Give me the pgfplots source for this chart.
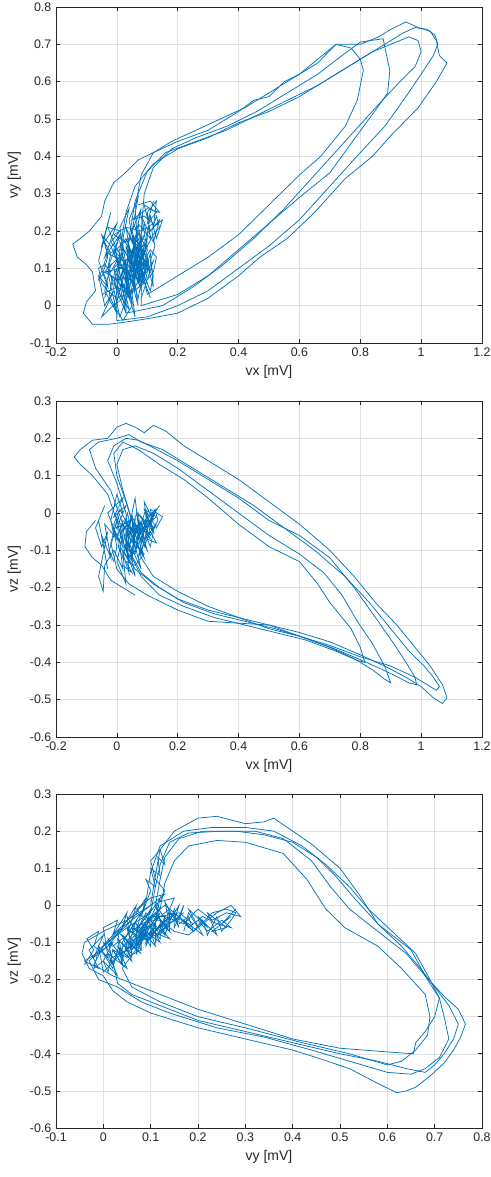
\documentclass[border=0pt]{standalone}
\usepackage{fontspec}
\setmainfont{Liberation Sans}
\usepackage{pgfplots}
\pgfplotsset{compat=1.18}
\definecolor{mblue}{rgb}{0,0.447,0.741}
\definecolor{axgray}{rgb}{0.15,0.15,0.15}
\pgfplotscreateplotcyclelist{vcglist}{mblue,solid,line width=0.55pt,mark=none\\}
\pgfplotsset{vcg/.style={
  scale only axis, width=319.5pt, anchor=south west,
  grid=major, grid style={line width=0.4pt, draw=black!12},
  axis line style={draw=axgray, line width=0.5pt},
  tick style={draw=axgray, line width=0.5pt},
  tick align=inside, major tick length=3pt,
  ticklabel style={font=\fontsize{9.3}{10}\selectfont, text=axgray},
  label style={font=\fontsize{10.5}{12}\selectfont, text=axgray},
  /pgf/number format/.cd, fixed, precision=1, assume math mode=true,
  /pgfplots/.cd,
  cycle list name=vcglist,
}}
\begin{document}
\begin{tikzpicture}
\path[use as bounding box] (-42pt,0pt) rectangle (325.5pt,-882.75pt);
% ---------------- vx - vy
\begin{axis}[vcg, at={(0pt,-257.25pt)}, height=252pt,
  xmin=-0.2, xmax=1.2, ymin=-0.1, ymax=0.8,
  xtick={-0.2,0,0.2,0.4,0.6,0.8,1,1.2},
  ytick={-0.1,0,0.1,0.2,0.3,0.4,0.5,0.6,0.7,0.8},
  xlabel={vx [mV]}, ylabel={vy [mV]}]
\addplot coordinates {(0.02,-0.045) (0.10,-0.035) (0.20,-0.02) (0.30,0.02) (0.40,0.08) (0.47,0.13) (0.56,0.18) (0.65,0.25) (0.75,0.34) (0.84,0.40) (0.90,0.455) (0.99,0.53) (1.05,0.60) (1.085,0.65) (1.06,0.67) (1.05,0.71) (1.03,0.735) (0.99,0.745) (0.95,0.76) (0.90,0.74) (0.86,0.72) (0.80,0.70) (0.72,0.70) (0.66,0.65) (0.60,0.62) (0.55,0.60) (0.50,0.56) (0.45,0.55) (0.40,0.52) (0.30,0.47) (0.20,0.44) (0.12,0.41) (0.07,0.39) (0.02,0.35) (-0.01,0.33) (-0.04,0.28) (-0.05,0.24) (-0.09,0.20) (-0.12,0.18) (-0.145,0.165) (-0.13,0.13) (-0.10,0.11) (-0.08,0.09) (-0.07,0.04) (-0.10,0.01) (-0.11,-0.02) (-0.08,-0.05) (-0.03,-0.05) (0.02,-0.045)};
\addplot coordinates {(0.0,-0.04) (0.1,-0.03) (0.2,0.0) (0.3,0.04) (0.4,0.10) (0.5,0.16) (0.6,0.23) (0.7,0.32) (0.8,0.41) (0.88,0.48) (0.95,0.56) (1.0,0.62) (1.04,0.67) (1.055,0.70) (1.045,0.725) (1.02,0.74) (0.98,0.745) (0.94,0.73) (0.88,0.70) (0.80,0.66) (0.70,0.61) (0.60,0.56) (0.50,0.52) (0.40,0.49) (0.30,0.45) (0.20,0.42) (0.12,0.38) (0.06,0.32) (0.03,0.25) (0.01,0.15) (0.0,0.05) (0.0,-0.04)};
\addplot coordinates {(0.03,-0.02) (0.15,0.0) (0.25,0.05) (0.35,0.11) (0.45,0.18) (0.55,0.26) (0.65,0.35) (0.75,0.44) (0.85,0.53) (0.93,0.60) (0.98,0.64) (1.0,0.68) (0.99,0.71) (0.96,0.72) (0.90,0.70) (0.84,0.68) (0.76,0.64) (0.66,0.59) (0.56,0.55) (0.46,0.51) (0.36,0.47) (0.26,0.44) (0.16,0.41) (0.10,0.36) (0.06,0.28) (0.04,0.18) (0.03,0.08) (0.03,-0.02)};
\addplot coordinates {(0.08,0.0) (0.2,0.03) (0.3,0.08) (0.4,0.15) (0.5,0.22) (0.6,0.29) (0.70,0.356) (0.78,0.446) (0.853,0.527) (0.89,0.57) (0.897,0.63) (0.875,0.715) (0.80,0.706) (0.74,0.67) (0.66,0.62) (0.56,0.57) (0.46,0.52) (0.36,0.48) (0.26,0.45) (0.18,0.42) (0.12,0.37) (0.09,0.30) (0.08,0.20) (0.08,0.10) (0.08,0.0)};
\addplot coordinates {(0.1,0.03) (0.2,0.08) (0.3,0.13) (0.4,0.19) (0.5,0.27) (0.6,0.35) (0.67,0.40) (0.75,0.48) (0.79,0.55) (0.81,0.63) (0.80,0.66) (0.77,0.69) (0.72,0.70) (0.66,0.66) (0.6,0.62) (0.50,0.57) (0.42,0.53) (0.34,0.50) (0.26,0.47) (0.18,0.44) (0.12,0.41) (0.08,0.35) (0.06,0.26) (0.07,0.15) (0.1,0.03)};
\addplot coordinates {(0.12,0.28) (0.10,0.22) (0.13,0.25) (0.09,0.27) (0.11,0.20) (0.14,0.23) (0.12,0.17) (0.08,0.24) (0.10,0.15) (0.06,0.21) (0.09,0.12) (0.05,0.18) (0.07,0.08) (0.03,0.16) (0.06,0.05) (0.02,0.12) (0.04,0.02) (0.00,0.09) (0.03,-0.02) (-0.01,0.06) (0.02,0.14) (-0.03,0.10) (0.01,0.19) (-0.04,0.13) (0.00,0.22) (-0.05,0.16) (-0.02,0.25) (-0.06,0.12) (-0.03,0.05) (-0.06,0.08) (-0.04,0.0) (-0.01,0.04) (-0.05,-0.03) (0.00,0.01) (0.02,0.08) (0.05,0.03) (0.07,0.13) (0.04,0.07) (0.08,0.16) (0.05,0.10) (0.09,0.19) (0.06,0.14) (0.10,0.06) (0.07,0.11) (0.11,0.02) (0.08,0.09) (0.10,0.13) (0.06,0.18) (0.08,0.26) (0.05,0.20) (0.07,0.29) (0.04,0.23) (0.06,0.15) (0.03,0.21) (0.05,0.11) (0.01,0.17) (0.04,0.06) (0.00,0.13) (0.03,0.00) (-0.02,0.08) (0.01,-0.03) (0.04,0.04) (0.02,0.10) (0.06,0.07) (0.04,0.15) (0.08,0.11) (0.05,0.19) (0.09,0.14) (0.11,0.24) (0.13,0.18) (0.15,0.23) (0.12,0.21) (0.13,0.28) (0.10,0.25) (0.11,0.18) (0.07,0.22) (0.09,0.10) (0.06,0.16) (0.08,0.04) (0.05,0.12) (0.07,0.00) (0.04,0.09) (0.06,-0.03) (0.03,0.05) (0.05,0.14) (0.02,0.18) (0.04,0.26) (0.01,0.21) (0.03,0.11) (-0.01,0.15) (0.02,0.05) (-0.03,0.09) (0.00,-0.02) (-0.04,0.04) (-0.02,0.11) (-0.06,0.07) (-0.03,0.14) (-0.05,0.19) (-0.02,0.16) (0.01,0.10) (0.04,0.13) (0.07,0.06) (0.10,0.11) (0.12,0.05) (0.11,0.14) (0.09,0.08) (0.12,0.12) (0.08,0.02)};
\addplot coordinates {(0.00,0.05) (0.03,0.12) (0.01,0.07) (0.05,0.14) (0.02,0.09) (0.06,0.16) (0.04,0.08) (0.07,0.15) (0.05,0.06) (0.08,0.13) (0.06,0.09) (0.09,0.16) (0.07,0.07) (0.10,0.12) (0.08,0.05) (0.09,0.14) (0.06,0.11) (0.08,0.18) (0.05,0.13) (0.07,0.20) (0.04,0.12) (0.06,0.04) (0.03,0.10) (0.05,0.01) (0.02,0.06) (0.04,-0.01) (0.01,0.03) (-0.01,0.10) (0.02,0.13) (-0.02,0.17) (0.01,0.20) (-0.03,0.21) (0.00,0.15) (0.03,0.18) (0.06,0.12) (0.09,0.17) (0.11,0.09) (0.08,0.12) (0.10,0.16) (0.07,0.10) (0.09,0.06) (0.06,0.08) (0.04,0.14) (0.02,0.02) (-0.01,0.00) (0.02,-0.04) (0.05,0.00) (0.03,0.08)};
\addplot coordinates {(-0.04,0.02) (-0.03,0.06) (-0.045,0.09) (-0.03,0.13) (-0.04,0.17) (-0.02,0.14) (-0.03,0.10) (-0.015,0.07) (-0.025,0.03) (-0.01,0.0) (0.0,0.04) (-0.01,0.08) (0.005,0.11) (-0.005,0.15) (0.01,0.19) (0.02,0.16) (0.01,0.12) (0.025,0.09) (0.015,0.05) (0.03,0.01) (0.04,0.05) (0.03,0.09) (0.045,0.12) (0.035,0.16) (0.05,0.20) (0.06,0.17) (0.05,0.13) (0.065,0.10) (0.055,0.06) (0.07,0.02) (0.08,0.06) (0.07,0.10) (0.085,0.14) (0.075,0.18) (0.09,0.22) (0.10,0.18) (0.09,0.14) (0.105,0.11) (0.095,0.07) (0.11,0.04) (0.12,0.08) (0.11,0.12) (0.125,0.16) (0.115,0.20) (0.13,0.24) (0.14,0.21) (0.12,0.19) (0.10,0.16) (0.08,0.12) (0.06,0.09) (0.04,0.07) (0.02,0.10) (0.0,0.12) (-0.02,0.09) (-0.04,0.11) (-0.06,0.10) (-0.05,0.06) (-0.03,0.04) (0.0,0.02) (0.03,0.03) (0.06,0.05) (0.08,0.08) (0.10,0.10) (0.08,0.14) (0.05,0.11) (0.03,0.14) (0.01,0.16) (0.04,0.18) (0.07,0.16) (0.09,0.12) (0.11,0.15) (0.13,0.13) (0.12,0.09) (0.10,0.07)};
\addplot coordinates {(-0.05,0.03) (0.0,0.05) (0.04,0.03) (0.09,0.06) (0.05,0.08) (0.0,0.07) (-0.04,0.09) (0.01,0.10) (0.06,0.09) (0.10,0.12) (0.06,0.13) (0.02,0.12) (-0.03,0.14) (0.01,0.15) (0.06,0.14) (0.10,0.17) (0.07,0.19) (0.03,0.17) (-0.01,0.19) (0.03,0.21) (0.08,0.20) (0.12,0.22) (0.09,0.24) (0.05,0.23) (0.10,0.26) (0.14,0.25) (0.11,0.28) (0.07,0.27)};
\end{axis}
% ---------------- vx - vz
\begin{axis}[vcg, at={(0pt,-552.75pt)}, height=252pt,
  xmin=-0.2, xmax=1.2, ymin=-0.6, ymax=0.3,
  xtick={-0.2,0,0.2,0.4,0.6,0.8,1,1.2},
  ytick={-0.6,-0.5,-0.4,-0.3,-0.2,-0.1,0,0.1,0.2,0.3},
  xlabel={vx [mV]}, ylabel={vz [mV]}]
\addplot coordinates {(0.0,-0.02) (-0.03,0.05) (-0.08,0.10) (-0.12,0.13) (-0.14,0.15) (-0.12,0.17) (-0.08,0.195) (-0.03,0.20) (0.0,0.23) (0.03,0.24) (0.06,0.23) (0.09,0.215) (0.12,0.235) (0.16,0.22) (0.22,0.18) (0.30,0.14) (0.40,0.09) (0.50,0.03) (0.60,-0.03) (0.70,-0.10) (0.78,-0.17) (0.85,-0.24) (0.92,-0.30) (0.98,-0.36) (1.03,-0.41) (1.07,-0.46) (1.085,-0.495) (1.07,-0.51) (1.04,-0.495) (1.0,-0.465) (0.95,-0.44) (0.88,-0.41) (0.80,-0.38) (0.70,-0.345) (0.60,-0.32) (0.50,-0.30) (0.40,-0.295) (0.30,-0.29) (0.20,-0.26) (0.10,-0.22) (0.04,-0.19) (0.0,-0.15) (-0.02,-0.08) (0.0,-0.02)};
\addplot coordinates {(0.02,-0.03) (-0.02,0.06) (-0.07,0.12) (-0.09,0.17) (-0.06,0.19) (0.0,0.20) (0.04,0.21) (0.08,0.19) (0.15,0.17) (0.25,0.12) (0.35,0.07) (0.45,0.02) (0.55,-0.04) (0.65,-0.10) (0.75,-0.17) (0.83,-0.24) (0.90,-0.31) (0.96,-0.37) (1.01,-0.41) (1.04,-0.44) (1.06,-0.465) (1.05,-0.475) (1.02,-0.46) (0.98,-0.44) (0.90,-0.41) (0.80,-0.385) (0.70,-0.355) (0.60,-0.33) (0.50,-0.30) (0.40,-0.28) (0.30,-0.26) (0.20,-0.23) (0.12,-0.19) (0.06,-0.15) (0.02,-0.10) (0.02,-0.03)};
\addplot coordinates {(0.03,0.0) (0.0,0.08) (-0.03,0.14) (-0.01,0.18) (0.03,0.20) (0.07,0.195) (0.12,0.175) (0.20,0.14) (0.30,0.09) (0.40,0.04) (0.50,-0.02) (0.60,-0.06) (0.70,-0.12) (0.78,-0.20) (0.85,-0.28) (0.91,-0.35) (0.95,-0.40) (0.98,-0.44) (0.985,-0.46) (0.96,-0.455) (0.90,-0.43) (0.82,-0.40) (0.72,-0.365) (0.62,-0.335) (0.52,-0.31) (0.42,-0.29) (0.32,-0.27) (0.22,-0.24) (0.14,-0.20) (0.08,-0.16) (0.04,-0.10) (0.03,0.0)};
\addplot coordinates {(0.05,-0.02) (0.02,0.06) (0.0,0.13) (0.02,0.17) (0.06,0.18) (0.12,0.16) (0.20,0.12) (0.30,0.06) (0.40,0.0) (0.50,-0.06) (0.60,-0.11) (0.68,-0.16) (0.74,-0.22) (0.79,-0.29) (0.84,-0.35) (0.88,-0.41) (0.90,-0.455) (0.88,-0.445) (0.84,-0.42) (0.78,-0.39) (0.70,-0.36) (0.60,-0.33) (0.50,-0.31) (0.40,-0.28) (0.30,-0.25) (0.20,-0.21) (0.12,-0.17) (0.08,-0.12) (0.05,-0.02)};
\addplot coordinates {(0.06,-0.05) (0.03,0.03) (0.0,0.10) (-0.01,0.16) (0.02,0.19) (0.07,0.17) (0.14,0.13) (0.22,0.09) (0.30,0.04) (0.40,-0.03) (0.50,-0.09) (0.60,-0.13) (0.66,-0.19) (0.70,-0.24) (0.74,-0.28) (0.77,-0.31) (0.80,-0.36) (0.815,-0.40) (0.79,-0.395) (0.72,-0.37) (0.62,-0.34) (0.52,-0.32) (0.42,-0.30) (0.32,-0.28) (0.22,-0.25) (0.14,-0.22) (0.08,-0.17) (0.05,-0.12) (0.06,-0.05)};
\addplot coordinates {(-0.07,-0.02) (-0.10,-0.05) (-0.105,-0.09) (-0.08,-0.12) (-0.05,-0.14) (-0.02,-0.18) (0.02,-0.20) (0.06,-0.22)};
\addplot coordinates {(0.14,0.02) (0.10,-0.03) (0.13,-0.01) (0.09,0.01) (0.12,-0.05) (0.08,-0.01) (0.11,-0.07) (0.07,-0.02) (0.10,-0.10) (0.06,-0.04) (0.09,-0.12) (0.05,-0.06) (0.08,-0.15) (0.04,-0.08) (0.06,-0.17) (0.03,-0.10) (0.05,-0.13) (0.01,-0.06) (0.04,-0.02) (0.00,-0.04) (0.03,0.02) (-0.01,-0.01) (0.02,0.04) (-0.03,0.0) (0.01,-0.08) (-0.04,-0.03) (-0.02,-0.12) (-0.05,-0.06) (-0.03,-0.15) (-0.06,-0.02) (-0.04,0.02) (-0.07,-0.04) (-0.05,-0.09) (-0.03,-0.05) (-0.06,-0.17) (-0.045,-0.21) (-0.04,-0.14) (-0.01,-0.10) (0.02,-0.15) (0.01,-0.09) (0.04,-0.13) (0.03,-0.05) (0.06,-0.09) (0.05,-0.01) (0.08,-0.06) (0.07,0.0) (0.10,-0.04) (0.09,0.03) (0.12,-0.02) (0.11,0.01) (0.15,-0.01) (0.13,-0.04) (0.10,0.00) (0.08,-0.08) (0.06,-0.03) (0.05,-0.11) (0.03,-0.07) (0.04,-0.16) (0.02,-0.11) (0.03,-0.19) (0.00,-0.13) (0.02,-0.06) (-0.01,-0.03) (0.01,0.01) (0.04,-0.04) (0.06,0.04) (0.07,-0.03) (0.09,-0.09) (0.11,-0.05) (0.13,-0.08) (0.10,-0.07) (0.12,0.00) (0.09,-0.02) (0.07,-0.07) (0.05,-0.05) (0.02,-0.02) (0.00,-0.07) (-0.02,-0.02) (0.00,0.05) (0.02,0.00)};
\addplot coordinates {(0.02,-0.05) (0.05,-0.01) (0.03,-0.07) (0.06,-0.02) (0.04,-0.09) (0.07,-0.03) (0.05,-0.08) (0.08,-0.02) (0.06,-0.10) (0.09,-0.05) (0.07,-0.12) (0.10,-0.06) (0.08,-0.03) (0.11,-0.02) (0.09,-0.07) (0.12,-0.04) (0.10,-0.01) (0.13,0.01) (0.11,-0.03) (0.08,-0.05) (0.05,-0.04) (0.03,-0.10) (0.01,-0.05) (0.04,-0.03) (0.02,-0.08) (0.00,-0.02) (0.03,-0.04) (0.06,-0.07) (0.04,-0.12) (0.07,-0.09) (0.09,-0.11) (0.06,-0.14) (0.03,-0.13) (0.05,-0.16) (0.02,-0.14)};
\addplot coordinates {(-0.02,-0.02) (-0.01,-0.06) (-0.025,-0.10) (-0.01,-0.13) (0.0,-0.09) (-0.01,-0.05) (0.005,-0.01) (0.015,-0.05) (0.005,-0.09) (0.02,-0.12) (0.03,-0.08) (0.02,-0.04) (0.035,0.0) (0.045,-0.04) (0.035,-0.08) (0.05,-0.12) (0.06,-0.08) (0.05,-0.04) (0.065,0.0) (0.075,-0.04) (0.065,-0.08) (0.08,-0.11) (0.09,-0.07) (0.08,-0.03) (0.095,0.01) (0.105,-0.03) (0.095,-0.06) (0.11,-0.09) (0.12,-0.05) (0.11,-0.02) (0.125,0.01) (0.135,-0.02) (0.12,-0.04) (0.10,-0.02) (0.08,-0.05) (0.06,-0.03) (0.04,-0.06) (0.02,-0.03) (0.0,-0.06) (0.02,-0.09) (0.04,-0.10) (0.06,-0.11) (0.07,-0.06) (0.09,-0.04) (0.11,-0.06) (0.13,-0.03)};
\end{axis}
% ---------------- vy - vz
\begin{axis}[vcg, at={(0pt,-846pt)}, height=250.5pt,
  xmin=-0.1, xmax=0.8, ymin=-0.6, ymax=0.3,
  xtick={-0.1,0,0.1,0.2,0.3,0.4,0.5,0.6,0.7,0.8},
  ytick={-0.6,-0.5,-0.4,-0.3,-0.2,-0.1,0,0.1,0.2,0.3},
  xlabel={vy [mV]}, ylabel={vz [mV]}]
\addplot coordinates {(0.10,0.0) (0.11,0.08) (0.12,0.15) (0.15,0.20) (0.20,0.235) (0.24,0.24) (0.30,0.22) (0.34,0.225) (0.36,0.235) (0.40,0.20) (0.44,0.165) (0.50,0.10) (0.54,0.03) (0.58,-0.05) (0.65,-0.12) (0.68,-0.19) (0.72,-0.245) (0.75,-0.28) (0.765,-0.32) (0.755,-0.355) (0.74,-0.39) (0.72,-0.425) (0.69,-0.46) (0.66,-0.49) (0.64,-0.50) (0.62,-0.505) (0.58,-0.48) (0.52,-0.44) (0.45,-0.41) (0.40,-0.39) (0.30,-0.36) (0.20,-0.33) (0.10,-0.29) (0.05,-0.26) (0.02,-0.23) (0.0,-0.19) (-0.03,-0.17) (-0.045,-0.13) (-0.04,-0.10) (0.0,-0.07) (0.05,-0.04) (0.10,0.0)};
\addplot coordinates {(0.11,0.0) (0.12,0.07) (0.13,0.13) (0.16,0.18) (0.21,0.20) (0.28,0.20) (0.34,0.19) (0.40,0.17) (0.45,0.13) (0.49,0.08) (0.53,0.02) (0.58,-0.05) (0.63,-0.11) (0.67,-0.17) (0.70,-0.22) (0.73,-0.27) (0.75,-0.32) (0.74,-0.36) (0.72,-0.40) (0.70,-0.43) (0.68,-0.45) (0.64,-0.44) (0.58,-0.42) (0.50,-0.40) (0.40,-0.37) (0.30,-0.34) (0.20,-0.31) (0.12,-0.27) (0.06,-0.24) (0.03,-0.21) (0.02,-0.15) (0.06,-0.08) (0.11,0.0)};
\addplot coordinates {(0.12,-0.01) (0.13,0.06) (0.15,0.12) (0.18,0.16) (0.24,0.175) (0.30,0.17) (0.38,0.14) (0.43,0.07) (0.47,-0.01) (0.51,-0.06) (0.58,-0.11) (0.63,-0.17) (0.68,-0.24) (0.69,-0.30) (0.685,-0.35) (0.66,-0.39) (0.63,-0.42) (0.60,-0.43) (0.52,-0.40) (0.42,-0.37) (0.30,-0.33) (0.20,-0.30) (0.12,-0.26) (0.06,-0.22) (0.04,-0.17) (0.08,-0.10) (0.12,-0.01)};
\addplot coordinates {(0.10,-0.02) (0.11,0.05) (0.12,0.11) (0.14,0.17) (0.18,0.195) (0.25,0.20) (0.32,0.20) (0.38,0.18) (0.44,0.12) (0.48,0.05) (0.52,-0.01) (0.58,-0.07) (0.64,-0.13) (0.68,-0.19) (0.71,-0.25) (0.70,-0.30) (0.68,-0.34) (0.66,-0.37) (0.655,-0.40) (0.60,-0.395) (0.50,-0.385) (0.40,-0.36) (0.30,-0.32) (0.20,-0.28) (0.12,-0.24) (0.06,-0.21) (0.02,-0.19) (-0.02,-0.16) (0.0,-0.11) (0.05,-0.06) (0.10,-0.02)};
\addplot coordinates {(0.09,0.01) (0.10,0.09) (0.12,0.16) (0.17,0.20) (0.23,0.21) (0.30,0.21) (0.36,0.20) (0.42,0.16) (0.47,0.11) (0.52,0.05) (0.56,-0.01) (0.61,-0.07) (0.66,-0.13) (0.69,-0.20) (0.71,-0.25) (0.72,-0.30) (0.73,-0.36) (0.71,-0.41) (0.68,-0.44) (0.65,-0.455) (0.60,-0.45) (0.52,-0.42) (0.44,-0.39) (0.34,-0.355) (0.24,-0.33) (0.14,-0.29) (0.08,-0.26) (0.03,-0.22) (-0.01,-0.20) (-0.03,-0.15) (0.02,-0.08) (0.09,0.01)};
\addplot coordinates {(0.28,-0.01) (0.25,-0.05) (0.27,-0.03) (0.23,-0.07) (0.26,-0.06) (0.22,-0.02) (0.24,-0.08) (0.20,-0.03) (0.22,-0.06) (0.18,-0.01) (0.21,-0.08) (0.17,-0.04) (0.19,-0.07) (0.15,-0.02) (0.16,-0.06) (0.13,0.01) (0.14,-0.05) (0.11,0.0) (0.13,-0.08) (0.09,-0.03) (0.12,-0.10) (0.08,-0.06) (0.11,-0.02) (0.07,-0.09) (0.10,-0.05) (0.06,-0.12) (0.09,-0.08) (0.05,-0.10) (0.08,-0.13) (0.04,-0.08) (0.06,-0.15) (0.03,-0.11) (0.05,-0.17) (0.01,-0.13) (0.03,-0.19) (0.00,-0.15) (0.02,-0.10) (-0.02,-0.14) (0.00,-0.08) (-0.03,-0.12) (-0.01,-0.17) (-0.04,-0.15) (0.01,-0.11) (0.04,-0.06) (0.02,-0.09) (0.06,-0.04) (0.05,-0.08) (0.08,-0.02) (0.07,-0.07) (0.10,-0.01) (0.09,-0.06) (0.12,0.02) (0.11,-0.04) (0.14,-0.01) (0.13,-0.06) (0.16,0.0) (0.15,-0.04) (0.12,-0.06) (0.14,-0.09) (0.10,-0.07) (0.11,-0.11) (0.07,-0.05) (0.08,-0.10) (0.05,-0.06) (0.06,-0.11) (0.03,-0.07) (0.04,-0.14) (0.01,-0.09) (0.02,-0.16) (-0.01,-0.11) (0.00,-0.18) (0.03,-0.14) (0.05,-0.12) (0.08,-0.08) (0.10,-0.03) (0.13,-0.03) (0.17,-0.05) (0.20,-0.01) (0.23,-0.04) (0.26,-0.02) (0.29,-0.03) (0.27,0.0) (0.24,-0.02) (0.21,-0.05) (0.18,-0.08) (0.15,-0.07) (0.12,-0.04) (0.09,-0.04) (0.07,-0.01) (0.10,0.02) (0.13,0.03) (0.11,0.01)};
\addplot coordinates {(0.04,-0.10) (0.07,-0.04) (0.05,-0.12) (0.09,-0.05) (0.06,-0.09) (0.10,-0.03) (0.07,-0.11) (0.11,-0.06) (0.08,-0.09) (0.12,-0.02) (0.09,-0.10) (0.13,-0.04) (0.10,-0.08) (0.14,-0.03) (0.11,-0.07) (0.15,-0.02) (0.12,-0.08) (0.09,-0.02) (0.07,-0.07) (0.05,-0.03) (0.06,-0.13) (0.03,-0.09) (0.04,-0.16) (0.02,-0.12) (0.05,-0.14) (0.08,-0.12) (0.06,-0.06) (0.10,-0.09) (0.12,-0.05) (0.14,-0.07) (0.11,-0.02) (0.13,0.0) (0.16,-0.03) (0.18,-0.06) (0.20,-0.04) (0.22,-0.07) (0.25,-0.04) (0.27,-0.06) (0.24,-0.05) (0.21,-0.03) (0.19,-0.05) (0.16,-0.02) (0.12,-0.03) (0.10,-0.06) (0.08,-0.05)};
\addplot coordinates {(0.0,-0.13) (0.02,-0.17) (0.03,-0.12) (0.04,-0.15) (0.05,-0.10) (0.05,-0.14) (0.07,-0.08) (0.07,-0.13) (0.09,-0.07) (0.09,-0.11) (0.11,-0.05) (0.11,-0.10) (0.13,-0.03) (0.13,-0.08) (0.15,-0.01) (0.15,-0.06) (0.17,0.0) (0.16,-0.04) (0.14,-0.02) (0.14,-0.07) (0.12,-0.04) (0.12,-0.09) (0.10,-0.06) (0.10,-0.11) (0.08,-0.07) (0.08,-0.12) (0.06,-0.09) (0.06,-0.14) (0.04,-0.10) (0.04,-0.16) (0.02,-0.12) (0.01,-0.18) (0.0,-0.15) (-0.02,-0.17) (-0.01,-0.12) (0.01,-0.10) (0.03,-0.07) (0.05,-0.05) (0.07,-0.03) (0.09,-0.01) (0.11,0.01) (0.12,-0.01) (0.10,-0.04) (0.08,-0.05) (0.06,-0.07) (0.04,-0.09) (0.02,-0.11) (0.0,-0.10) (0.02,-0.14) (0.05,-0.12) (0.07,-0.10) (0.09,-0.09) (0.11,-0.08) (0.13,-0.06) (0.15,-0.04) (0.17,-0.02)};
\addplot coordinates {(0.16,-0.05) (0.18,-0.03) (0.19,-0.07) (0.21,-0.04) (0.22,-0.08) (0.24,-0.03) (0.25,-0.07) (0.27,-0.04) (0.28,-0.02) (0.26,-0.01) (0.23,-0.02) (0.20,-0.06) (0.18,-0.02) (0.17,-0.07)};
\addplot coordinates {(-0.04,-0.16) (-0.02,-0.12) (-0.035,-0.09) (-0.01,-0.07) (-0.02,-0.11) (0.01,-0.14) (0.0,-0.06) (0.03,-0.04) (0.02,-0.08) (0.05,-0.02) (0.04,-0.06) (0.07,0.0) (0.06,-0.04) (0.09,0.02) (0.08,-0.03) (0.10,0.04) (0.09,0.07) (0.11,0.05) (0.10,0.10) (0.12,0.08) (0.115,0.13) (0.13,0.11) (0.12,0.15) (0.10,0.12) (0.11,0.07) (0.13,0.04) (0.12,0.01) (0.15,0.02) (0.14,-0.01)};
\end{axis}
\end{tikzpicture}
\end{document}
